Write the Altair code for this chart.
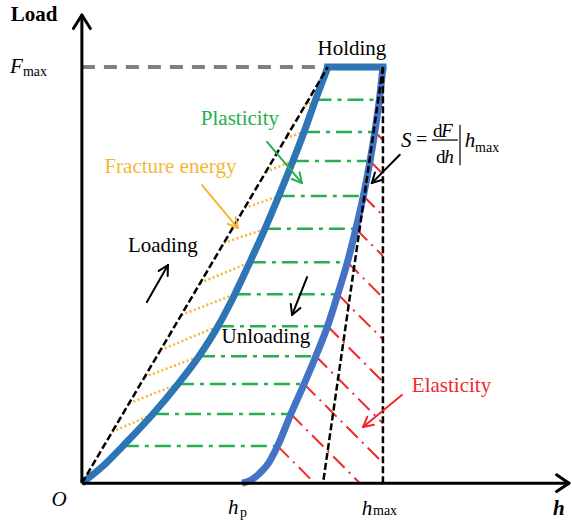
import numpy as np
import pandas as pd
import altair as alt

W, H = 572, 521
X_DOM = [-0.272, 1.628]   # indentation depth h / h_max
Y_DOM = [-0.091, 1.161]   # load F / F_max
SX = W / (X_DOM[1] - X_DOM[0])   # px per unit of h
SY = H / (Y_DOM[1] - Y_DOM[0])   # px per unit of F

SERIF = "Liberation Serif"
BLUE_LOAD = "#2E75B6"
BLUE_UNLOAD = "#4472C4"
GREEN = "#27AE4F"
ORANGE = "#F6B633"
RED = "#F02828"

# loading branch
load_h = [0.0, 0.073, 0.136, 0.236, 0.319, 0.389, 0.452, 0.508, 0.558, 0.608, 0.654, 0.701, 0.738, 0.776, 0.817]
load_F = [0.0, 0.043, 0.089, 0.166, 0.238, 0.305, 0.377, 0.454, 0.531, 0.611, 0.690, 0.774, 0.844, 0.921, 1.0]
# unloading branch (from residual depth h_p up to h_max)
unload_h = [0.532, 0.561, 0.588, 0.620, 0.650, 0.694, 0.738, 0.777, 0.816, 0.850, 0.882, 0.910, 0.935, 0.957, 0.973, 0.988, 1.0]
unload_F = [0.0, 0.007, 0.022, 0.048, 0.089, 0.166, 0.238, 0.305, 0.377, 0.454, 0.531, 0.611, 0.690, 0.774, 0.844, 0.921, 1.0]
h_hold = [0.817, 1.0]
h_p, h_max, F_max = 0.532, 1.0, 1.0
tangent_foot = 0.801     # where the unloading tangent meets the h axis

# hatching levels
hatch_F = [0.089, 0.166, 0.238, 0.305, 0.377, 0.454, 0.531, 0.611, 0.690, 0.774, 0.844, 0.921]
# fracture-energy hatching: start on the chord, end on the loading curve
frac_start_F = [0.123, 0.192, 0.255, 0.320, 0.404, 0.481, 0.577, 0.661, 0.748, 0.829, 0.906]
frac_end_F = hatch_F[1:]

xs = alt.Scale(domain=X_DOM, nice=False, zero=False)
ys = alt.Scale(domain=Y_DOM, nice=False, zero=False)


def load_at(F):
    return float(np.interp(F, load_F, load_h))


def unload_at(F):
    return float(np.interp(F, unload_F, unload_h))


def rules(segs, **kw):
    df = pd.DataFrame(segs, columns=["x", "y", "x2", "y2"])
    return alt.Chart(df).mark_rule(**kw).encode(
        x=alt.X("x:Q", scale=xs, axis=None),
        y=alt.Y("y:Q", scale=ys, axis=None),
        x2="x2:Q", y2="y2:Q")


def curve(hs, Fs, **kw):
    df = pd.DataFrame({"h": hs, "F": Fs})
    return alt.Chart(df).mark_line(**kw).encode(
        x=alt.X("h:Q", scale=xs, axis=None),
        y=alt.Y("F:Q", scale=ys, axis=None),
        order="h:Q")


def head(tail, tip, length, half_deg):
    """Two short segments forming an open arrow head at tip."""
    dx = (tip[0] - tail[0]) * SX
    dy = (tip[1] - tail[1]) * SY
    n = np.hypot(dx, dy)
    ux, uy = dx / n, dy / n
    out = []
    for s in (1, -1):
        a = np.radians(half_deg) * s
        rx = ux * np.cos(a) - uy * np.sin(a)
        ry = ux * np.sin(a) + uy * np.cos(a)
        out.append([tip[0], tip[1], tip[0] - length * rx / SX, tip[1] - length * ry / SY])
    return out


def arrow(tail, tip, color, width=2, length=11, half_deg=28):
    segs = [[tail[0], tail[1], tip[0], tip[1]]] + head(tail, tip, length, half_deg)
    return rules(segs, color=color, strokeWidth=width, strokeCap="round")


def label(h, F, text, size=21, color="black", style="normal", weight="normal", align="left"):
    df = pd.DataFrame({"h": [h], "F": [F], "t": [text]})
    return alt.Chart(df).mark_text(
        font=SERIF, fontSize=size, color=color, fontStyle=style, fontWeight=weight,
        align=align, baseline="alphabetic").encode(
        x=alt.X("h:Q", scale=xs, axis=None),
        y=alt.Y("F:Q", scale=ys, axis=None),
        text="t:N")


layers = []

# plasticity hatching between the branches
green = [[load_at(F), F, unload_at(F), F] for F in hatch_F]
layers.append(rules(green, color=GREEN, strokeWidth=2.5, strokeDash=[16, 6, 4, 6]))

# fracture energy hatching between chord and loading curve
chord_top = h_hold[0]
orange = [[chord_top * F0, F0, load_at(F1), F1] for F0, F1 in zip(frac_start_F, frac_end_F)]
layers.append(rules(orange, color=ORANGE, strokeWidth=2.5, strokeDash=[2, 2.5]))

# elasticity hatching at 45 degrees, clipped by h_max and the h axis
red = []
for F in hatch_F:
    h0 = unload_at(F)
    t = min((h_max - h0) * SX, F * SY)
    red.append([h0, F, h0 + t / SX, F - t / SY])
layers.append(rules(red, color=RED, strokeWidth=2, strokeDash=[16, 6, 2, 6]))

# F_max reference line
layers.append(rules([[0, F_max, h_hold[0], F_max]], color="#7F7F7F", strokeWidth=4, strokeDash=[13, 9]))

# load-displacement curves
layers.append(curve(load_h, load_F, color=BLUE_LOAD, strokeWidth=7, interpolate="monotone"))
layers.append(rules([[h_hold[0], F_max, h_hold[1], F_max]], color=BLUE_LOAD, strokeWidth=7, strokeCap="square"))
layers.append(curve(unload_h, unload_F, color=BLUE_UNLOAD, strokeWidth=7, interpolate="monotone"))

# construction lines: chord, unloading tangent, h_max
dashed = [[0, 0, chord_top, F_max],
          [h_max, F_max, tangent_foot, 0],
          [h_max, 0, h_max, F_max]]
layers.append(rules(dashed, color="black", strokeWidth=2.5, strokeDash=[7, 3]))

# axes with open arrow heads
y_tip = (0, 1.125)
x_tip = (1.618, 0)
layers.append(rules([[0, 0, y_tip[0], y_tip[1]], [0, 0, x_tip[0], x_tip[1]]],
                    color="black", strokeWidth=3))
layers.append(rules(head((0, 0), y_tip, 16, 32) + head((0, 0), x_tip, 15, 34),
                    color="black", strokeWidth=3, strokeCap="round"))

# annotation arrows
layers.append(arrow((0.216, 0.435), (0.286, 0.524), "black"))
layers.append(arrow((0.748, 0.495), (0.698, 0.404), "black"))
layers.append(arrow((0.615, 0.820), (0.731, 0.721), GREEN))
layers.append(arrow((0.399, 0.716), (0.518, 0.613), ORANGE))
layers.append(arrow((1.056, 0.789), (0.963, 0.721), "black"))
layers.append(arrow((1.063, 0.212), (0.934, 0.135), RED))

# texts
layers += [
    label(-0.159, 1.111, "Load", weight="bold", align="center"),
    label(-0.239, 0.986, "F", style="italic"),
    label(-0.196, 0.978, "max", size=14),
    label(0.897, 1.029, "Holding", align="center"),
    label(0.525, 0.861, "Plasticity", color=GREEN, align="center"),
    label(0.294, 0.745, "Fracture energy", color=ORANGE, align="center"),
    label(0.269, 0.555, "Loading", align="center"),
    label(0.611, 0.337, "Unloading", align="center"),
    label(1.096, 0.219, "Elasticity", color=RED),
    label(-0.076, -0.055, "O", style="italic", align="center"),
    label(0.485, -0.075, "h", style="italic"),
    label(0.525, -0.082, "p", size=14),
    label(0.930, -0.077, "h", style="italic"),
    label(0.967, -0.077, "max", size=14),
    label(1.565, -0.077, "h", style="italic", weight="bold"),
    # stiffness formula S = dF/dh | h_max
    label(1.060, 0.808, "S", style="italic"),
    label(1.110, 0.810, "=", size=20),
    label(1.166, 0.832, "d", size=19),
    label(1.194, 0.832, "F", size=19, style="italic"),
    label(1.176, 0.769, "d", size=19),
    label(1.204, 0.769, "h", size=19, style="italic"),
    label(1.272, 0.808, "h", style="italic"),
    label(1.306, 0.796, "max", size=14),
]
layers.append(rules([[1.163, 0.8245, 1.249, 0.8245], [1.256, 0.861, 1.256, 0.764]],
                    color="black", strokeWidth=1.2))

chart = alt.layer(*layers).properties(
    width=W, height=H, padding=0, autosize=alt.AutoSizeParams(type="none")
).configure_view(stroke=None)

chart.save("out.html", embed_options={"renderer": "svg", "actions": False})
